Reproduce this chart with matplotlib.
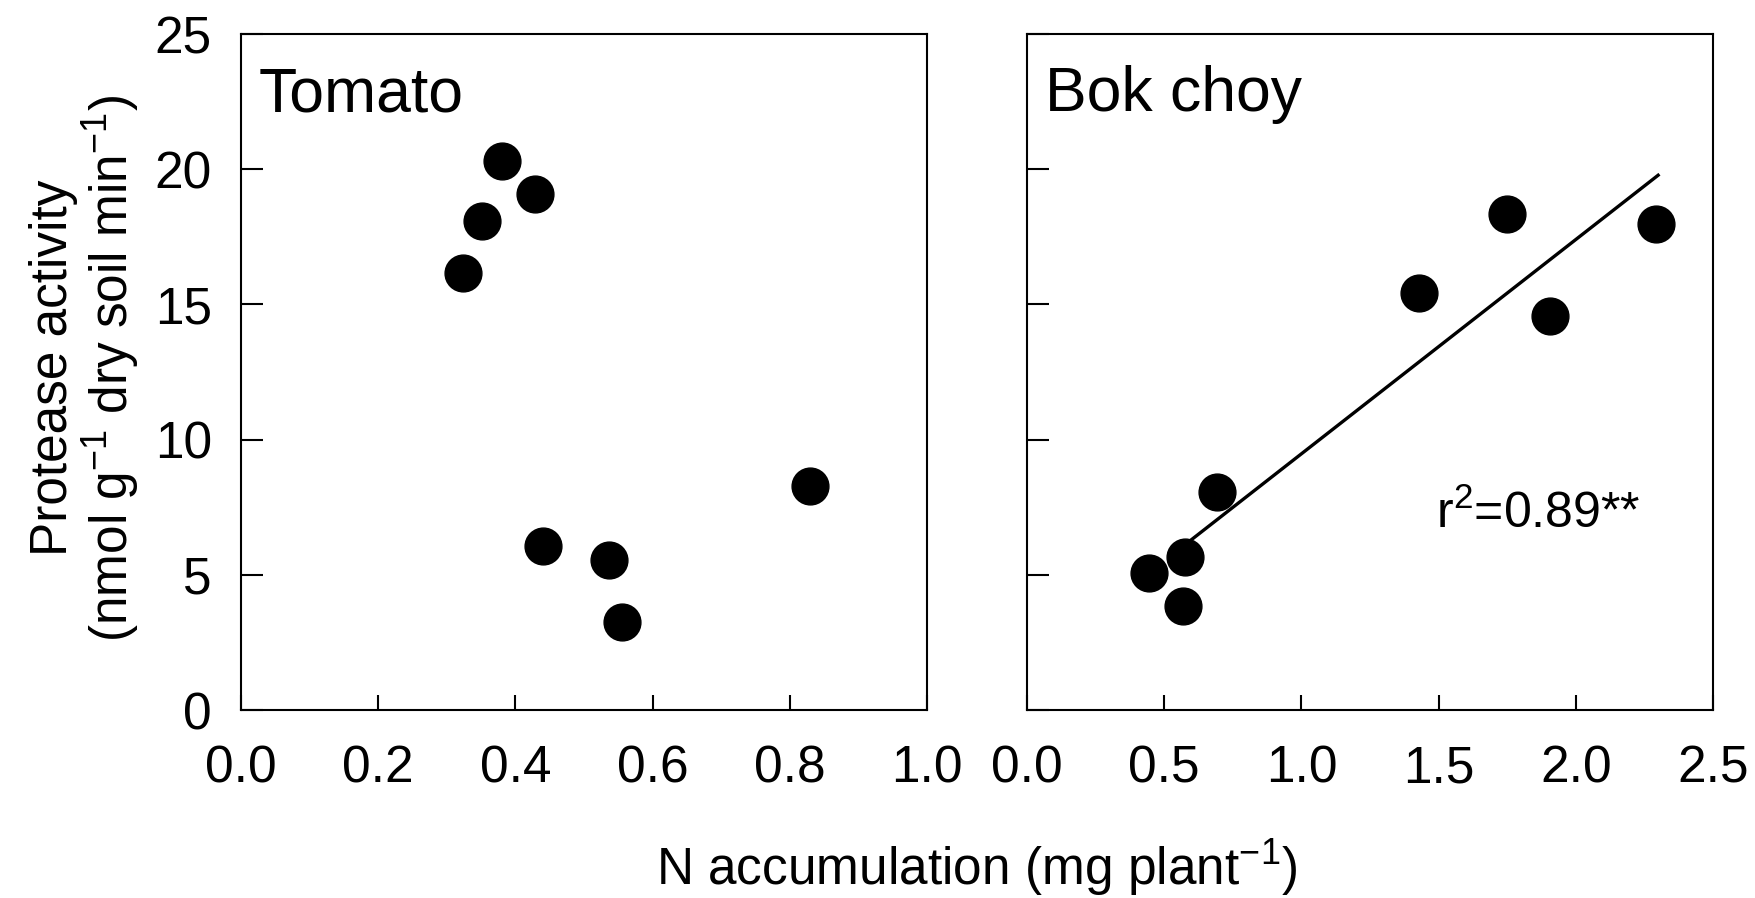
import numpy as np
import matplotlib
matplotlib.use("Agg")
import matplotlib.pyplot as plt

plt.rcParams['font.family'] = ['Liberation Sans', 'DejaVu Sans']
plt.rcParams['mathtext.fontset'] = 'custom'
plt.rcParams['mathtext.rm'] = 'Liberation Sans'
plt.rcParams['mathtext.it'] = 'Liberation Sans:italic'
plt.rcParams['mathtext.bf'] = 'Liberation Sans:bold'

# ---- data ----
tomato_x = [0.323, 0.351, 0.381, 0.428, 0.440, 0.536, 0.556, 0.830]
tomato_y = [16.15, 18.10, 20.30, 19.10, 6.05, 5.53, 3.26, 8.30]

bok_x = [0.443, 0.576, 0.567, 0.692, 1.430, 1.748, 1.907, 2.291]
bok_y = [5.05, 5.64, 3.85, 8.05, 15.41, 18.36, 14.58, 17.96]
bok_fit_range = [0.60, 2.30]

panel_titles = ["Tomato", "Bok choy"]
tomato_xticks = [0.0, 0.2, 0.4, 0.6, 0.8, 1.0]
bok_xticks = [0.0, 0.5, 1.0, 1.5, 2.0, 2.5]
yticks = [0, 5, 10, 15, 20, 25]
r2_label = r"r$^{\mathregular{2}}$=0.89**"

W, H = 1755, 898
fig = plt.figure(figsize=(W / 100, H / 100), dpi=100)

def frac_rect(x0, y0, x1, y1):
    return [x0 / W, 1 - y1 / H, (x1 - x0) / W, (y1 - y0) / H]

ax1 = fig.add_axes(frac_rect(241, 34, 927, 710))
ax2 = fig.add_axes(frac_rect(1027, 34, 1713, 710))

tick_fs = 37
for ax, xt, xlim in [(ax1, tomato_xticks, (0, 1.0)), (ax2, bok_xticks, (0, 2.5))]:
    ax.set_xlim(*xlim)
    ax.set_ylim(0, 25)
    ax.set_xticks(xt)
    ax.set_xticklabels([f"{v:.1f}" for v in xt])
    ax.set_yticks(yticks)
    for s in ax.spines.values():
        s.set_linewidth(1.5)
    ax.tick_params(axis='x', direction='in', length=11, width=1.5, pad=25, labelsize=tick_fs)
    ax.tick_params(axis='y', direction='in', length=16, width=1.5, pad=21, labelsize=tick_fs)
    ax.tick_params(top=False, right=False)

ax2.tick_params(axis='y', labelleft=False)

ms = 26.5
ax1.plot(tomato_x, tomato_y, 'o', color='black', ms=ms, mec='black', clip_on=False, zorder=3)
ax2.plot(bok_x, bok_y, 'o', color='black', ms=ms, mec='black', clip_on=False, zorder=3)

coef = np.polyfit(bok_x, bok_y, 1)
fx = np.array(bok_fit_range)
ax2.plot(fx, np.polyval(coef, fx), color='black', lw=2.4, zorder=2)

for ax, t in zip([ax1, ax2], panel_titles):
    ax.text(0.026, 0.886, t, transform=ax.transAxes, fontsize=45, ha='left', va='baseline')

ax2.text(0.596, 0.269, r2_label, transform=ax2.transAxes, fontsize=36, ha='left', va='baseline')

ycenter = 1 - 368 / H
fig.text(66.7 / W, ycenter, "Protease activity", rotation=90, rotation_mode='anchor',
         ha='center', va='baseline', fontsize=37)
fig.text(128 / W, ycenter,
         r"(nmol g$^{\mathregular{-1}}$ dry soil min$^{\mathregular{-1}}$)",
         rotation=90, rotation_mode='anchor', ha='center', va='baseline', fontsize=37)

fig.text(977 / W, 1 - 885 / H, r"N accumulation (mg plant$^{\mathregular{-1}}$)",
         ha='center', va='baseline', fontsize=37)

fig.savefig("out.png", dpi=100)
